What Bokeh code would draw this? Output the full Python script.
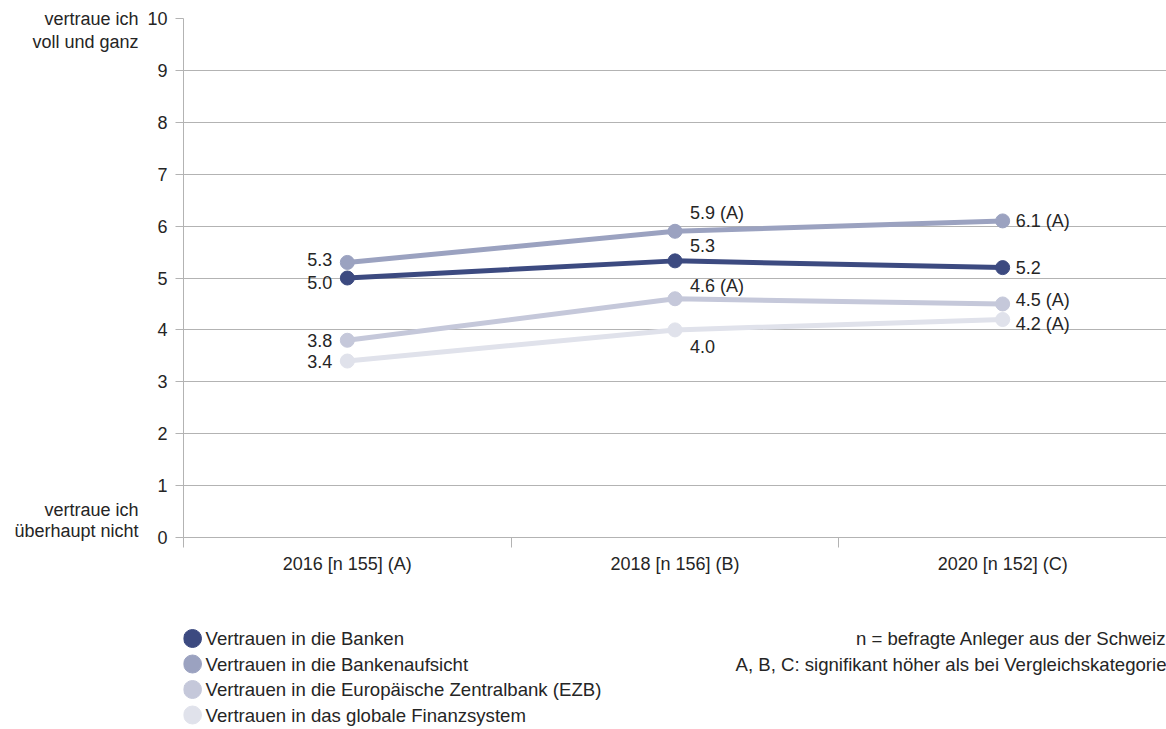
from bokeh.plotting import figure
from bokeh.models import Range1d, FixedTicker, LinearAxis, ColumnDataSource
from bokeh.layouts import column
from bokeh.embed import file_html
from bokeh.resources import INLINE
from bokeh.core.properties import value

# ---------------- data ----------------
categories = ["2016 [n 155] (A)", "2018 [n 156] (B)", "2020 [n 152] (C)"]
series_names = [
    "Vertrauen in die Banken",
    "Vertrauen in die Bankenaufsicht",
    "Vertrauen in die Europäische Zentralbank (EZB)",
    "Vertrauen in das globale Finanzsystem",
]
banken = [5.0, 5.33, 5.2]
aufsicht = [5.3, 5.9, 6.1]
ezb = [3.8, 4.6, 4.5]
finanzsystem = [3.4, 4.0, 4.2]
banken_labels = ["5.0", "5.3", "5.2"]
aufsicht_labels = ["5.3", "5.9 (A)", "6.1 (A)"]
ezb_labels = ["3.8", "4.6 (A)", "4.5 (A)"]
finanzsystem_labels = ["3.4", "4.0", "4.2 (A)"]
y_ticks = list(range(0, 11))
scale_top = ["vertraue ich", "voll und ganz"]
scale_bottom = ["vertraue ich", "überhaupt nicht"]
notes = [
    "n = befragte Anleger aus der Schweiz",
    "A, B, C: signifikant höher als bei Vergleichskategorie",
]

# ---------------- style ----------------
colors = ["#3c4a80", "#9ba2c0", "#c5c8da", "#e0e2eb"]
FONT = "Liberation Sans"
FS = "18px"
FS_LEG = "18.6px"
TXT = "#252525"
GRID = "#b3b3b3"

# label placement per series (x_offset, y_offset[px, + = down], align)
label_place = [
    [(-15, 4, "right"), (15, -15, "left"), (13, 0, "left")],     # Banken
    [(-15, -3, "right"), (15, -18, "left"), (13, 0, "left")],    # Aufsicht
    [(-15, 0, "right"), (15, -13, "left"), (13, -4, "left")],    # EZB
    [(-15, 0, "right"), (15, 17, "left"), (13, 4, "left")],      # Finanzsystem
]

values = [banken, aufsicht, ezb, finanzsystem]
labels = [banken_labels, aufsicht_labels, ezb_labels, finanzsystem_labels]
xs = [i + 0.5 for i in range(len(categories))]

p = figure(width=1166, height=600, output_backend="svg", toolbar_location=None,
           x_range=Range1d(0, len(categories)), y_range=Range1d(0, 10),
           min_border_left=183, min_border_top=18, min_border_right=0,
           min_border_bottom=63)
p.outline_line_color = None

# axes
xax = p.xaxis[0]
xax.ticker = FixedTicker(ticks=xs, minor_ticks=list(range(len(categories) + 1)))
xax.major_label_overrides = {x: c for x, c in zip(xs, categories)}
xax.major_tick_out = 0
xax.major_tick_in = 0
xax.minor_tick_out = 10
xax.minor_tick_in = 0
xax.minor_tick_line_color = GRID
xax.axis_line_color = GRID
xax.major_label_standoff = 6
xax.major_label_text_font = FONT
xax.major_label_text_font_size = FS
xax.major_label_text_color = TXT

yax = p.yaxis[0]
yax.ticker = FixedTicker(ticks=y_ticks, minor_ticks=[])
yax.major_tick_out = 8
yax.major_tick_in = 0
yax.major_tick_line_color = GRID
yax.axis_line_color = GRID
yax.major_label_standoff = 8
yax.major_label_text_font = FONT
yax.major_label_text_font_size = FS
yax.major_label_text_color = TXT

# scale-end captions as an outer left axis (labels only)
px_per_unit = 519 / 10.0
cap_ticks = [10.0, round(10 - 24 / px_per_unit, 3), round(28 / px_per_unit, 3), round(6 / px_per_unit, 3)]
cap_text = scale_top + scale_bottom
cap_ax = LinearAxis(ticker=FixedTicker(ticks=cap_ticks, minor_ticks=[]),
                    major_label_overrides={t: s for t, s in zip(cap_ticks, cap_text)},
                    axis_line_color=None, major_tick_line_color=None,
                    minor_tick_line_color=None, major_tick_out=0, major_tick_in=0,
                    major_label_standoff=6, major_label_text_font=FONT,
                    major_label_text_font_size=FS, major_label_text_color=TXT)
p.add_layout(cap_ax, "left")

p.xgrid.grid_line_color = None
p.ygrid.ticker = FixedTicker(ticks=y_ticks)
p.ygrid.grid_line_color = GRID
p.ygrid.grid_line_width = 1

# series (lightest first so darker lie on top)
for k in reversed(range(len(series_names))):
    src = ColumnDataSource(dict(x=xs, y=values[k]))
    p.line("x", "y", source=src, line_color=colors[k], line_width=5,
           line_join="round", line_cap="round")
    p.scatter("x", "y", source=src, size=14, fill_color=colors[k],
              line_color=colors[k])

# value labels
for k in range(len(series_names)):
    for align in ("left", "right"):
        idx = [i for i in range(len(categories)) if label_place[k][i][2] == align]
        if not idx:
            continue
        src = ColumnDataSource(dict(
            x=[xs[i] for i in idx],
            y=[values[k][i] for i in idx],
            t=[labels[k][i] for i in idx],
            xo=[label_place[k][i][0] for i in idx],
            yo=[label_place[k][i][1] for i in idx],
        ))
        p.text("x", "y", text="t", source=src, x_offset="xo", y_offset="yo",
               text_align=align, text_baseline="middle",
               text_font=value(FONT), text_font_size=FS, text_color=TXT)

# ---------------- legend panel ----------------
# frame of this panel is aligned with the main frame (183..1166 px)
row_pitch = 25.5
first_row = 38.0
panel_h = 129
lg = figure(width=1166, height=panel_h, output_backend="svg", toolbar_location=None,
            x_range=Range1d(183, 1166),
            y_range=Range1d(-first_row / row_pitch + panel_h / row_pitch, -first_row / row_pitch),
            x_axis_type=None, y_axis_type=None, min_border=0,
            min_border_left=183)
lg.outline_line_color = None
lg.xgrid.grid_line_color = None
lg.ygrid.grid_line_color = None
rows = list(range(len(series_names)))
lsrc = ColumnDataSource(dict(x=[192] * len(rows), tx=[205] * len(rows), y=rows,
                             name=series_names, c=colors))
lg.scatter("x", "y", source=lsrc, size=18, fill_color="c", line_color="c")
lg.text("tx", "y", text="name", source=lsrc, text_align="left",
        text_baseline="middle", text_font=value(FONT), text_font_size=FS_LEG,
        text_color=TXT)
nsrc = ColumnDataSource(dict(x=[1166] * len(notes), y=list(range(len(notes))), t=notes))
lg.text("x", "y", text="t", source=nsrc, text_align="right", text_baseline="middle",
        text_font=value(FONT), text_font_size=FS_LEG, text_color=TXT)

layout = column(p, lg, spacing=0)
open("out.html", "w").write(file_html(layout, INLINE))
